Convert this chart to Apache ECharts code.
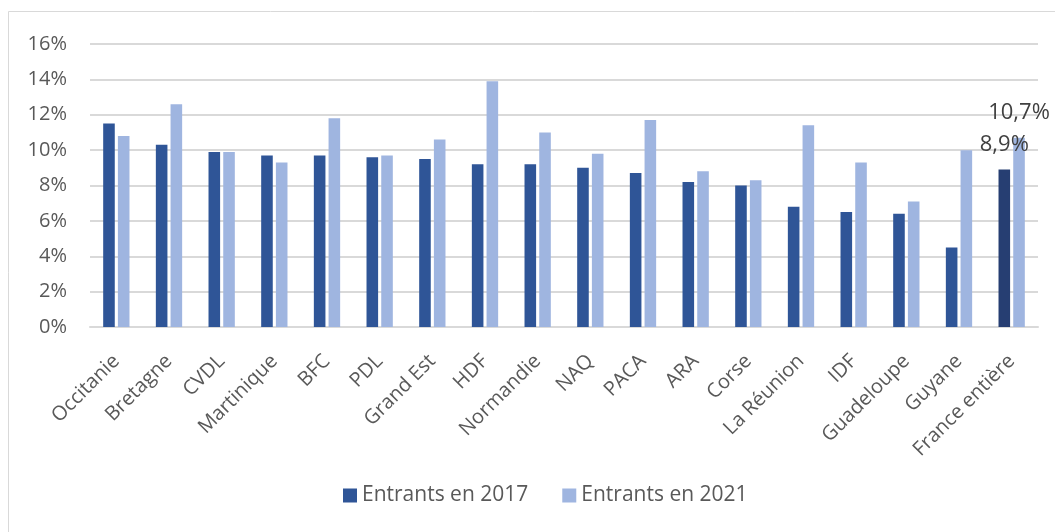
<!DOCTYPE html>
<html><head><meta charset="utf-8">
<script src="https://cdn.jsdelivr.net/npm/echarts@6/dist/echarts.min.js"></script>
<style>html,body{margin:0;padding:0;background:#fff}#c{width:1055px;height:532px}</style>
</head><body><div id="c"></div>
<script>
const categories = ["Occitanie","Bretagne","CVDL","Martinique","BFC","PDL","Grand Est","HDF","Normandie","NAQ","PACA","ARA","Corse","La Réunion","IDF","Guadeloupe","Guyane","France entière"];
const entrants2017 = [11.5,10.3,9.9,9.7,9.7,9.6,9.5,9.2,9.2,9.0,8.7,8.2,8.0,6.8,6.5,6.4,4.5,8.9];
const entrants2021 = [10.8,12.6,9.9,9.3,11.8,9.7,10.6,13.9,11.0,9.8,11.7,8.8,8.3,11.4,9.3,7.1,10.0,10.7];
const yTicks = [0,2,4,6,8,10,12,14,16];
const seriesNames = ["Entrants en 2017","Entrants en 2021"];

const FONT = "'Open Sans', 'Noto Sans', sans-serif";
const lastIdx = categories.length - 1;
const fmt = v => v.toFixed(1).replace('.', ',') + '%';
const lbl = {show:true, position:'top', distance:14, fontSize:22, color:'#404040', fontFamily:FONT, formatter:p=>fmt(p.value)};

const d17 = entrants2017.map((v,i)=> i===lastIdx ? {value:v, itemStyle:{color:'#263E72'}, label:lbl} : v);
const d21 = entrants2021.map((v,i)=> i===lastIdx ? {value:v, label:lbl} : v);

const chart = echarts.init(document.getElementById('c'), null, {renderer:'canvas'});
chart.setOption({
  animation:false,
  backgroundColor:'#fff',
  graphic:[{type:'rect', shape:{x:8.5,y:11.5,width:1200,height:700}, style:{fill:null, stroke:'#d9d9d9', lineWidth:1}, silent:true, z:-1}],
  grid:{left:90, right:17, top:44, bottom:205, containLabel:false},
  legend:{top:480, left:338, itemWidth:14, itemHeight:14, itemGap:34, icon:'rect',
    textStyle:{fontSize:21, color:'#595959', fontFamily:FONT}, data:seriesNames},
  xAxis:{type:'category', data:categories,
    axisLine:{lineStyle:{color:'#d9d9d9', width:2}}, axisTick:{show:false},
    axisLabel:{rotate:45, interval:0, margin:31, fontSize:20, color:'#595959', fontFamily:FONT}},
  yAxis:{type:'value', min:yTicks[0], max:yTicks[yTicks.length-1], interval:2,
    axisLine:{show:false}, axisTick:{show:false},
    splitLine:{lineStyle:{color:'#d9d9d9', width:2}},
    axisLabel:{formatter:v=>v+'%', fontSize:20, color:'#595959', fontFamily:FONT, margin:23}},
  series:[
    {name:seriesNames[0], type:'bar', data:d17, barWidth:'22%', barGap:'27%', itemStyle:{color:'#2F5597'}},
    {name:seriesNames[1], type:'bar', data:d21, barWidth:'22%', itemStyle:{color:'#9FB5E0'}}
  ]
});
</script></body></html>
